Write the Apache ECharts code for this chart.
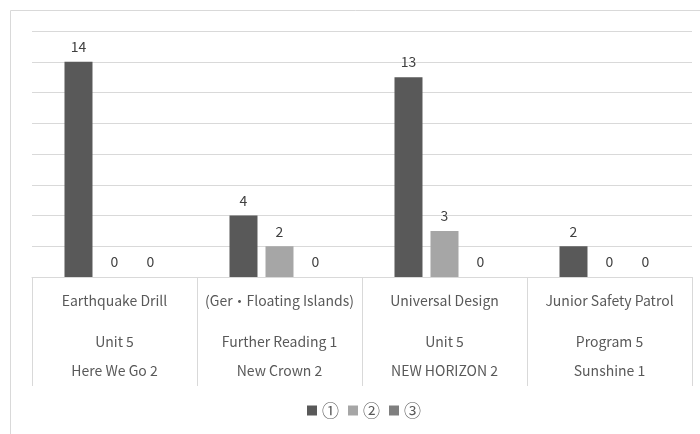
<!DOCTYPE html>
<html>
<head>
<meta charset="utf-8">
<script src="https://cdn.jsdelivr.net/npm/echarts@6/dist/echarts.min.js"></script>
<style>
html,body{margin:0;padding:0;background:#fff;}
#c{width:700px;height:434px;}
</style>
</head>
<body>
<div id="c"></div>
<script>
const topics = ['Earthquake Drill', '(Ger\u30FBFloating Islands)', 'Universal Design', 'Junior Safety Patrol'];
const units = ['Unit 5', 'Further Reading 1', 'Unit 5', 'Program 5'];
const textbooks = ['Here We Go 2', 'New Crown 2', 'NEW HORIZON 2', 'Sunshine 1'];
const seriesNames = ['\u2460', '\u2461', '\u2462'];
const values1 = [14, 4, 13, 2];
const values2 = [0, 2, 3, 0];
const values3 = [0, 0, 0, 0];
const yMin = 0, yMax = 16, yStep = 2;

const FONT = '"Noto Sans CJK JP", "Noto Sans", sans-serif';
const colors = ['#595959', '#a6a6a6', '#7f7f7f'];
const chart = echarts.init(document.getElementById('c'));
const cats = topics.map((t, i) => i);
function bar(name, data, color) {
  return {
    name: name, type: 'bar', data: data, barWidth: 28, barGap: '28.6%',
    itemStyle: { color: color },
    label: { show: true, position: 'top', distance: 8, color: '#404040', fontSize: 14, fontFamily: FONT }
  };
}
chart.setOption({
  animation: false,
  textStyle: { fontFamily: FONT },
  graphic: [{
    type: 'rect', shape: { x: 10.5, y: 10.5, width: 700, height: 440 },
    style: { fill: 'none', stroke: '#d9d9d9', lineWidth: 1 }, silent: true
  }],
  grid: { left: 32, right: 8, top: 31, bottom: 157, containLabel: false },
  legend: {
    top: 402, left: 307, itemWidth: 10, itemHeight: 10, itemGap: 9, padding: 0,
    icon: 'rect', textStyle: { color: '#595959', fontSize: 17, fontFamily: FONT },
    data: seriesNames
  },
  xAxis: {
    type: 'category', data: cats,
    axisLine: { lineStyle: { color: '#d9d9d9' } },
    axisTick: { show: true, length: 109, interval: 0, alignWithLabel: false, lineStyle: { color: '#d9d9d9' } },
    axisLabel: {
      interval: 0, margin: 3,
      formatter: function (v, i) { return '{a|' + topics[i] + '}\n{b|' + units[i] + '}\n{c|' + textbooks[i] + '}'; },
      rich: {
        a: { lineHeight: 42, fontSize: 14, color: '#595959', fontFamily: FONT },
        b: { lineHeight: 40, fontSize: 14, color: '#595959', fontFamily: FONT },
        c: { lineHeight: 18, fontSize: 14, color: '#595959', fontFamily: FONT }
      }
    }
  },
  yAxis: {
    type: 'value', min: yMin, max: yMax, interval: yStep,
    axisLabel: { show: false }, axisLine: { show: false }, axisTick: { show: false },
    splitLine: { lineStyle: { color: '#d9d9d9' } }
  },
  series: [bar(seriesNames[0], values1, colors[0]), bar(seriesNames[1], values2, colors[1]), bar(seriesNames[2], values3, colors[2])]
});
</script>
</body>
</html>
